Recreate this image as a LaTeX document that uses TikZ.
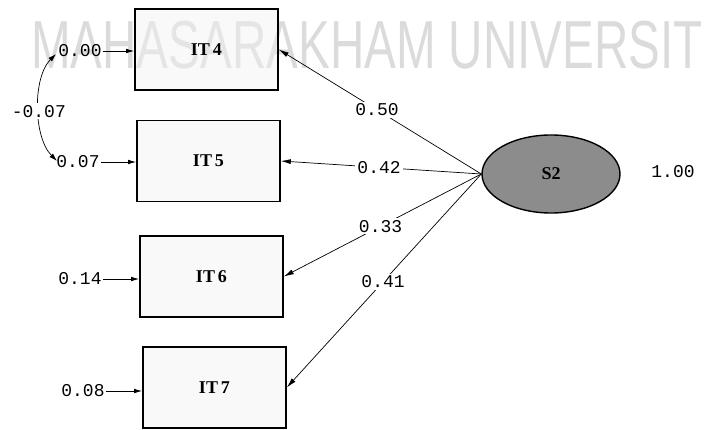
\documentclass[tikz,border=0pt]{standalone}
\usepackage{fontspec}
\setmainfont{Liberation Serif}
\setmonofont{Liberation Mono}
\newfontfamily\wmfont{Liberation Sans}
\usetikzlibrary{arrows.meta,shapes.geometric}
\begin{document}
\begin{tikzpicture}[x=1pt,y=-1pt,
  obs/.style={draw,line width=1.6pt,fill=black!5,fill opacity=0.45,text opacity=1,minimum width=143pt,minimum height=81pt,inner sep=0pt,font=\fontsize{18}{18}\selectfont\bfseries},
  lat/.style={ellipse,draw,line width=1.4pt,fill=black!45,minimum width=138pt,minimum height=78pt,inner sep=0pt,font=\fontsize{18}{18}\selectfont\bfseries},
  num/.style={font=\fontsize{18}{18}\selectfont\ttfamily,inner sep=1pt},
  lbl/.style={num,fill=white,inner sep=2pt},
  errarr/.style={-{Latex[length=8pt,width=4.5pt]},line width=0.8pt},
  ldarr/.style={-{Latex[length=10pt,width=5pt]},line width=0.7pt},
  covarr/.style={{Latex[length=8pt,width=5pt]}-{Latex[length=8pt,width=5pt]},line width=0.7pt},
  wm/.style={text=black!14,font=\wmfont\fontsize{68}{68}\selectfont,inner sep=0pt,xscale=0.70,anchor=base west}
]
\useasboundingbox (0,0) rectangle (708,430);
% watermark
\node[wm] (wmark) at (31,69) {MAHASARAKHAM UNIVERSIT};
% observed variables
\node[obs] (it4) at (206.5,49.5) {IT\,4};
\node[obs] (it5) at (208.5,161) {IT\,5};
\node[obs] (it6) at (211.5,276.5) {IT\,6};
\node[obs] (it7) at (214.5,387.5) {IT\,7};
% latent variable
\node[lat] (s2) at (551,174) {S2};
\node[num] (v) at (673,172) {1.00};
% error variances
\node[num] (e4) at (80,51) {0.00};
\node[num] (e5) at (78,162) {0.07};
\node[num] (e6) at (80,279) {0.14};
\node[num] (e7) at (83,391) {0.08};
\draw[errarr] (e4.east) -- (e4.east -| it4.west);
\draw[errarr] (e5.east) -- (e5.east -| it5.west);
\draw[errarr] (e6.east) -- (e6.east -| it6.west);
\draw[errarr] (e7.east) -- (e7.east -| it7.west);
% covariance
\coordinate (c4) at (56,54);
\coordinate (c5) at (57,161);
\draw[covarr] (c4) to[out=225,in=135,looseness=0.8] node[lbl,pos=0.53] (cv) {-0.07} (c5);
% loadings
\draw[ldarr] (s2.west) -- node[lbl,pos=0.515] (l4) {0.50} (it4.east);
\draw[ldarr] (s2.west) -- node[lbl,pos=0.51] (l5) {0.42} (it5.east);
\draw[ldarr] (s2.west) -- node[lbl,pos=0.51] (l6) {0.33} (it6.east);
\draw[ldarr] (s2.west) -- node[lbl,pos=0.505] (l7) {0.41} (it7.east);
\end{tikzpicture}
\end{document}
